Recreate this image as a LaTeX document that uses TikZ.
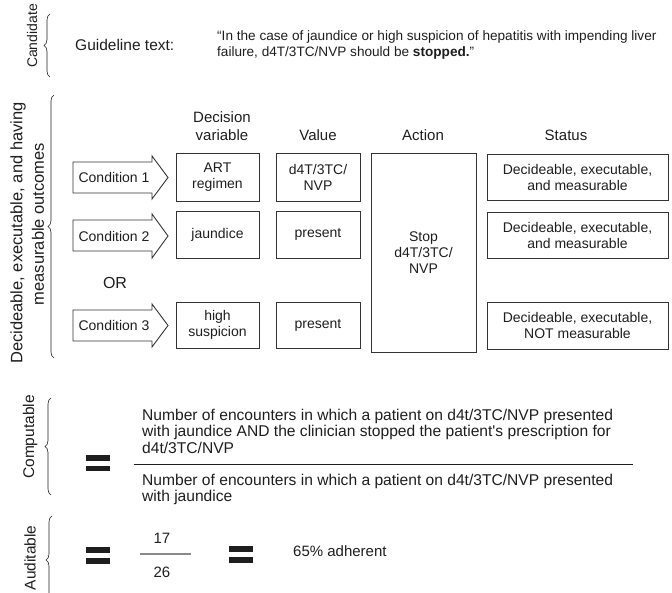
\documentclass[tikz,border=0pt]{standalone}
\usepackage{fontspec}
\setmainfont{Liberation Sans}
\newfontfamily\rawfont{Liberation Sans}
\usetikzlibrary{decorations.pathreplacing}
\definecolor{ink}{HTML}{1E1E1E}
\definecolor{edge}{HTML}{333333}
\definecolor{rulegray}{HTML}{8A8A8A}
\begin{document}
\begin{tikzpicture}[x=1pt,y=-1pt,
  txt/.style={text=ink, inner sep=0pt, align=center, font=\fontsize{14}{16}\selectfont},
  head/.style={text=ink, inner sep=0pt, align=center, font=\fontsize{15}{18}\selectfont},
  lbl/.style={text=ink, inner sep=0pt, font=\fontsize{15.5}{18}\selectfont},
  side/.style={text=ink, inner sep=0pt, rotate=90, font=\fontsize{15}{20}\selectfont},
  box/.style={draw=edge, line width=0.9pt, inner sep=0pt, text=ink, align=center, font=\fontsize{14}{16}\selectfont},
  brc/.style={draw=ink, line width=0.6pt, decorate, decoration={brace, amplitude=6pt}},
  arrowshape/.style={draw=edge, line width=0.9pt, fill=white},
  bar/.style={fill=ink},
  frac/.style={text=ink, inner sep=0pt, align=left, font=\rawfont\fontsize{15.6}{16.5}\selectfont}
]
\useasboundingbox (0,0) rectangle (672,593);

% ---------- Candidate ----------
\node[side, font=\fontsize{14}{16}\selectfont] (candlbl) at (32,36) {Candidate};
\draw[brc] (50,77) -- (50,14);
\node[lbl, anchor=west] (gtext) at (75,45) {Guideline text:};
\node[text=ink, inner sep=0pt, align=left, anchor=west, font=\fontsize{13.6}{16.5}\selectfont] (quote) at (217,45)
  {“In the case of jaundice or high suspicion of hepatitis with impending liver\\failure, d4T/3TC/NVP should be \textbf{stopped.}”};

% ---------- Decideable ----------
\node[side, font=\fontsize{16.5}{18}\selectfont] (declbl1) at (18,233) {Decideable, executable, and having};
\node[side, font=\fontsize{16.5}{18}\selectfont] (declbl2) at (38,224) {measurable outcomes};
\draw[brc] (54,358) -- (54,95);

% headers
\node[head] (hdv) at (222,126) {Decision\\variable};
\node[head] (hval) at (318,135) {Value};
\node[head] (hact) at (423,135) {Action};
\node[head] (hstat) at (566,135) {Status};

% condition arrows
\draw[arrowshape] (73,162) -- (152,162) -- (152,156) -- (168,177.5) -- (152,199) -- (152,193) -- (73,193) -- cycle;
\node[txt] (c1) at (114,177.5) {Condition 1};
\draw[arrowshape] (73,220) -- (152,220) -- (152,214) -- (168,236) -- (152,258) -- (152,251) -- (73,251) -- cycle;
\node[txt] (c2) at (114,236) {Condition 2};
\draw[arrowshape] (73,310) -- (152,310) -- (152,304) -- (168,325.5) -- (152,347) -- (152,341) -- (73,341) -- cycle;
\node[txt] (c3) at (114,325.5) {Condition 3};
\node[head, font=\fontsize{16}{18}\selectfont] (or) at (115,283) {OR};

% decision variable boxes
\node[box, minimum width=83, minimum height=48] (dv1) at (217.5,177) {ART\\regimen};
\node[box, minimum width=83, minimum height=47] (dv2) at (217.5,234.5) {jaundice};
\node[box, minimum width=83, minimum height=46] (dv3) at (217.5,325) {high\\suspicion};
% value boxes
\node[box, minimum width=84, minimum height=48] (v1) at (318,177) {d4T/3TC/\\NVP};
\node[box, minimum width=84, minimum height=47] (v2) at (318,234.5) {present};
\node[box, minimum width=84, minimum height=46] (v3) at (318,325) {present};
% action box
\node[box, minimum width=105, minimum height=199] (act) at (423.5,252.5) {Stop\\d4T/3TC/\\NVP};
% status boxes
\node[box, minimum width=181, minimum height=46] (s1) at (577.5,177) {Decideable, executable,\\and measurable};
\node[box, minimum width=181, minimum height=46] (s2) at (577.5,235) {Decideable, executable,\\and measurable};
\node[box, minimum width=181, minimum height=47] (s3) at (577.5,325.5) {Decideable, executable,\\NOT measurable};

% ---------- Computable ----------
\node[side, font=\fontsize{15.5}{18}\selectfont] (complbl) at (30,437) {Computable};
\draw[brc] (51,495) -- (51,398);
\fill[bar] (86,455) rectangle (110,460.5);
\fill[bar] (86,465.5) rectangle (110,471);
\node[frac, anchor=west] (num) at (142,431)
  {Number of encounters in which a patient on d4t/3TC/NVP presented\\with jaundice AND the clinician stopped the patient's prescription for\\d4t/3TC/NVP};
\coordinate (fl) at (134,464);
\coordinate (fr) at (633,464);
\draw[ink, line width=1pt] (fl) -- (fr);
\node[frac, anchor=west] (den) at (142,489.5)
  {Number of encounters in which a patient on d4t/3TC/NVP presented\\with jaundice};

% ---------- Auditable ----------
\node[side, font=\fontsize{15.5}{18}\selectfont] (audlbl) at (30,558) {Auditable};
\draw[brc] (52,604) -- (52,516);
\fill[bar] (86,547) rectangle (110,552.5);
\fill[bar] (86,558) rectangle (110,563.5);
\node[lbl, font=\fontsize{15}{18}\selectfont] (n17) at (162,538) {17};
\coordinate (gl) at (140,554);
\coordinate (gr) at (191,554);
\draw[rulegray, line width=1.4pt] (gl) -- (gr);
\node[lbl, font=\fontsize{15}{18}\selectfont] (n26) at (162,572) {26};
\fill[bar] (229,546) rectangle (253,551.5);
\fill[bar] (229,557) rectangle (253,562.5);
\node[lbl, anchor=west, font=\fontsize{15}{18}\selectfont] (adh) at (293,551) {65\% adherent};
\end{tikzpicture}
\end{document}
